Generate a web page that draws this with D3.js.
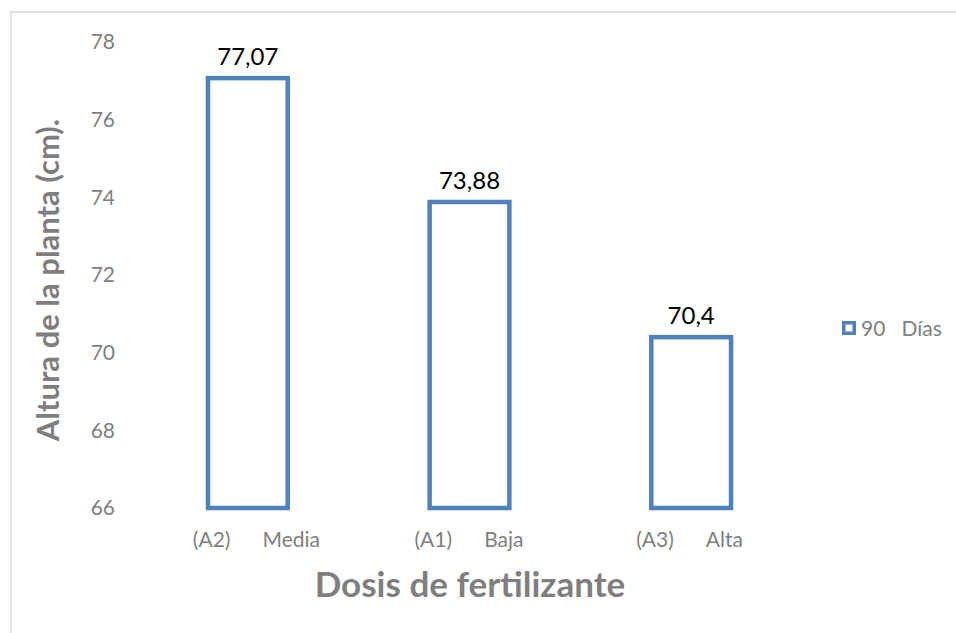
<!DOCTYPE html>
<html>
<head>
<meta charset="utf-8">
<script src="https://cdn.jsdelivr.net/npm/d3@7"></script>
<style>
  body { margin: 0; background: #fff; }
  svg, svg text { font-family: Lato, "Open Sans", sans-serif; }
</style>
</head>
<body>
<svg width="956" height="633"></svg>
<script>
const categories = ["(A2)|Media", "(A1)|Baja", "(A3)|Alta"];
const values = [77.07, 73.88, 70.4];
const valueLabels = ["77,07", "73,88", "70,4"];
const yTicks = [66, 68, 70, 72, 74, 76, 78];
const seriesName = "90   Días";

const svg = d3.select("svg");

// chart frame (runs off right/bottom like the source)
svg.append("rect")
  .attr("x", 11).attr("y", 12)
  .attr("width", 960).attr("height", 640)
  .attr("fill", "none")
  .attr("stroke", "#d9d9d9")
  .attr("stroke-width", 1.5);

const x = d3.scaleBand()
  .domain(categories)
  .range([137, 802])
  .paddingInner(0.62)
  .paddingOuter(0.31);

const y = d3.scaleLinear().domain([66, 78]).range([508, 42]);

// y axis labels only, no line
const yAxis = svg.append("g")
  .attr("transform", "translate(115,0)")
  .call(d3.axisLeft(y).tickValues(yTicks).tickSize(0).tickPadding(0));
yAxis.attr("font-family", null);
yAxis.select(".domain").remove();
yAxis.selectAll("text")
  .attr("fill", "#7f7f7f")
  .style("font-size", "21px")
  .attr("dy", "0.32em");

// x axis labels: code and level split with a wide gap
const xAxis = svg.append("g")
  .attr("transform", "translate(0,508)")
  .call(d3.axisBottom(x).tickSize(0).tickPadding(24));
xAxis.attr("font-family", null);
xAxis.select(".domain").remove();
xAxis.selectAll("text")
  .attr("fill", "#7f7f7f")
  .attr("text-anchor", "start")
  .attr("x", -55)
  .style("font-size", "21px")
  .each(function (d) {
    const parts = d.split("|");
    const t = d3.select(this).text(null);
    t.append("tspan").text(parts[0]);
    t.append("tspan").attr("dx", 32).text(parts[1]);
  });

// bars
const sw = 4.5;
svg.selectAll("rect.bar")
  .data(values)
  .enter()
  .append("rect")
  .attr("class", "bar")
  .attr("x", (d, i) => x(categories[i]) + sw / 2)
  .attr("y", (d) => y(d))
  .attr("width", x.bandwidth() - sw)
  .attr("height", (d) => y(66) - y(d))
  .attr("fill", "#fff")
  .attr("stroke", "#4f81bd")
  .attr("stroke-width", sw);

// value labels
svg.selectAll("text.val")
  .data(values)
  .enter()
  .append("text")
  .attr("class", "val")
  .attr("x", (d, i) => x(categories[i]) + x.bandwidth() / 2)
  .attr("y", (d) => y(d) - 13)
  .attr("text-anchor", "middle")
  .attr("fill", "#000")
  .style("font-size", "24px")
  .text((d, i) => valueLabels[i]);

// axis titles
svg.append("text")
  .attr("x", 470).attr("y", 597)
  .attr("text-anchor", "middle")
  .attr("fill", "#7f7f7f")
  .style("font-size", "35px")
  .style("font-weight", "bold")
  .text("Dosis de fertilizante");

svg.append("text")
  .attr("transform", "translate(59,280) rotate(-90)")
  .attr("text-anchor", "middle")
  .attr("fill", "#7f7f7f")
  .style("font-size", "31px")
  .style("font-weight", "bold")
  .text("Altura de la planta (cm).");

// legend
const lg = svg.append("g").attr("transform", "translate(842,321)");
lg.append("rect")
  .attr("x", 1.75).attr("y", 1.75)
  .attr("width", 10.5).attr("height", 10.5)
  .attr("fill", "#fff")
  .attr("stroke", "#4f81bd")
  .attr("stroke-width", 3.5);
lg.append("text")
  .attr("x", 19).attr("y", 14.5)
  .attr("fill", "#7f7f7f")
  .style("font-size", "21px")
  .style("white-space", "pre")
  .attr("xml:space", "preserve")
  .text(seriesName);
</script>
</body>
</html>
